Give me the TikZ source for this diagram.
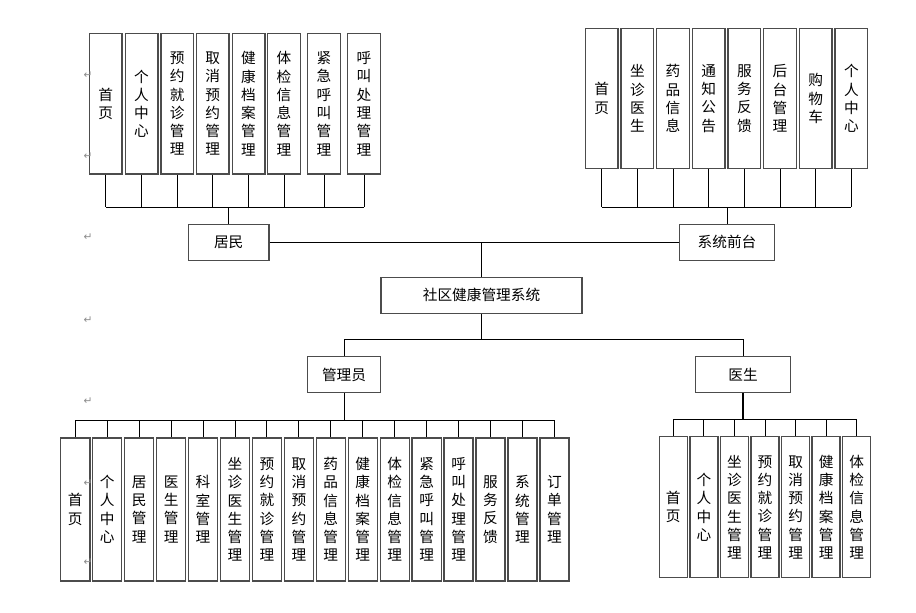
\documentclass[tikz,border=0pt]{standalone}
\usepackage{fontspec}
\setmainfont{Noto Sans CJK SC}
\newfontfamily\markfont{DejaVu Sans}
\usetikzlibrary{positioning}

\begin{document}
\begin{tikzpicture}[x=0.75pt, y=-0.75pt]

    % Farben
    \definecolor{boxcolor}{rgb}{0.3, 0.3, 0.3}
    \definecolor{linecolor}{rgb}{0, 0, 0}
    \definecolor{markcolor}{rgb}{0.55, 0.55, 0.55}

    \tikzset{
        rolebox/.style={draw=boxcolor, line width=1pt, fill=white, minimum height=26.8pt, inner sep=0pt, font=\fontsize{11}{13.7}\selectfont},
        itembox/.style={draw=boxcolor, line width=1pt, fill=white, inner sep=0pt, align=center, font=\fontsize{11}{13.7}\selectfont},
        link/.style={linecolor, line width=0.75pt}
    }

    \useasboundingbox (0,0) rectangle (916,612);

    % Hauptsystem und Rollen
    \node[rolebox, minimum width=150.8pt] (system) at (481.5, 295.3) {社区健康管理系统};
    \node[rolebox, minimum width=60.5pt] (resident) at (228.7, 242.3) {居民};
    \node[rolebox, minimum width=71.5pt] (front) at (727, 242.3) {系统前台};
    \node[rolebox, minimum width=55pt] (admin) at (344, 374.5) {管理员};
    \node[rolebox, minimum width=71pt] (doctor) at (743, 374.5) {医生};

    % Module Bewohner (oben links)
    \foreach \x/\lbl [count=\i] in {105.8/{首\\页}, 141.5/{个\\人\\中\\心}, 177.2/{预\\约\\就\\诊\\管\\理},
        212.8/{取\\消\\预\\约\\管\\理}, 248.5/{健\\康\\档\\案\\管\\理}, 284/{体\\检\\信\\息\\管\\理},
        324/{紧\\急\\呼\\叫\\管\\理}, 364/{呼\\叫\\处\\理\\管\\理}}
        \node[itembox, minimum width=24.5pt, minimum height=105.5pt] (res\i) at (\x, 103.7) {\lbl};

    % Module Systemfront (oben rechts)
    \foreach \lbl [count=\i] in {{首\\页}, {坐\\诊\\医\\生}, {药\\品\\信\\息}, {通\\知\\公\\告},
        {服\\务\\反\\馈}, {后\\台\\管\\理}, {购\\物\\车}, {个\\人\\中\\心}}
        \node[itembox, minimum width=24.5pt, minimum height=105.3pt] (fro\i) at ({601.7+35.67*(\i-1)}, 98.5) {\lbl};

    % Module Verwalter (unten links)
    \foreach \lbl [count=\i] in {{首\\页}, {个\\人\\中\\心}, {居\\民\\管\\理}, {医\\生\\管\\理}, {科\\室\\管\\理},
        {坐\\诊\\医\\生\\管\\理}, {预\\约\\就\\诊\\管\\理}, {取\\消\\预\\约\\管\\理}, {药\\品\\信\\息\\管\\理},
        {健\\康\\档\\案\\管\\理}, {体\\检\\信\\息\\管\\理}, {紧\\急\\呼\\叫\\管\\理}, {呼\\叫\\处\\理\\管\\理},
        {服\\务\\反\\馈}, {系\\统\\管\\理}, {订\\单\\管\\理}}
        \node[itembox, minimum width=21.8pt, minimum height=107.3pt] (adm\i) at ({75.3+31.94*(\i-1)}, 509.4) {\lbl};

    % Module Arzt (unten rechts)
    \foreach \lbl [count=\i] in {{首\\页}, {个\\人\\中\\心}, {坐\\诊\\医\\生\\管\\理}, {预\\约\\就\\诊\\管\\理},
        {取\\消\\预\\约\\管\\理}, {健\\康\\档\\案\\管\\理}, {体\\检\\信\\息\\管\\理}}
        \node[itembox, minimum width=21pt, minimum height=105.8pt] (doc\i) at ({673.3+30.57*(\i-1)}, 507.2) {\lbl};

    % Sammelpunkte
    \coordinate (resbus) at (228.7, 207);
    \coordinate (frobus) at (727, 207);
    \coordinate (sysbus) at (481.5, 339);
    \coordinate (admbus) at (344, 420.3);
    \coordinate (docbus) at (743, 419.3);

    % Verbindungen Mitte
    \draw[link] (resident) -- (front);
    \draw[link] (system.north) -- (system.north |- resident.east);
    \draw[link] (system.south) -- (sysbus);
    \draw[link] (admin.north) |- (doctor.north |- sysbus) -- (doctor.north);

    % Sammelschienen oben
    \draw[link] (resident.north) -- (resbus);
    \draw[link] (res1.south |- resbus) -- (res8.south |- resbus);
    \foreach \i in {1,...,8} \draw[link] (res\i.south) -- (res\i.south |- resbus);
    \draw[link] (front.north) -- (frobus);
    \draw[link] (fro1.south |- frobus) -- (fro8.south |- frobus);
    \foreach \i in {1,...,8} \draw[link] (fro\i.south) -- (fro\i.south |- frobus);

    % Sammelschienen unten
    \draw[link] (admin.south) -- (admbus);
    \draw[link] (adm1.north |- admbus) -- (adm16.north |- admbus);
    \foreach \i in {1,...,16} \draw[link] (adm\i.north |- admbus) -- (adm\i.north);
    \draw[link, line width=1.6pt] (doctor.south) -- (docbus);
    \draw[link] (doc1.north |- docbus) -- (doc7.north |- docbus);
    \foreach \i in {1,...,7} \draw[link] (doc\i.north |- docbus) -- (doc\i.north);

    % Absatzmarken
    \foreach \y [count=\i] in {75, 156, 237, 320, 401, 483, 562}
        \node[font=\markfont\fontsize{8}{9}\selectfont, text=markcolor, inner sep=0pt] (mark\i) at (88, \y) {↵};

\end{tikzpicture}
\end{document}
